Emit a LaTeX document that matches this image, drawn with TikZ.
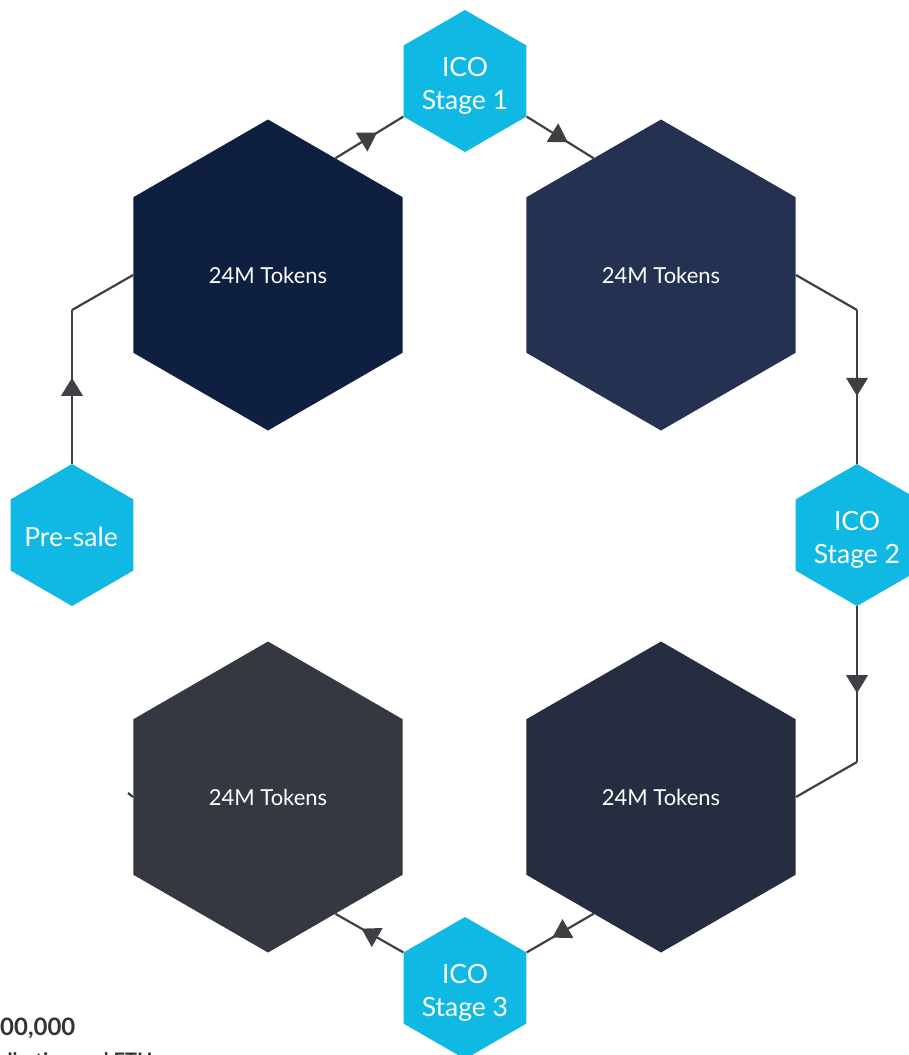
\documentclass[tikz,border=0pt]{standalone}
\usepackage{fontspec}
\setmainfont{Lato}
\usetikzlibrary{shapes.geometric,decorations.markings}
\definecolor{cyanhex}{HTML}{10B9E3}
\definecolor{hexA}{HTML}{0E1F40}
\definecolor{hexB}{HTML}{243150}
\definecolor{hexC}{HTML}{272D40}
\definecolor{hexD}{HTML}{353840}
\definecolor{linecol}{HTML}{404044}
\definecolor{txtgray}{HTML}{333333}
\begin{document}
\begin{tikzpicture}[x=1pt,y=-1pt,
  bighex/.style={regular polygon, regular polygon sides=6, shape border rotate=30,
    minimum size=311pt, inner sep=0pt, text=white, font=\fontsize{22}{26}\selectfont},
  smallhex/.style={regular polygon, regular polygon sides=6, shape border rotate=30,
    minimum size=142pt, inner sep=0pt, fill=cyanhex},
  hextext/.style={inner sep=0pt, text=white, align=center,
    font=\fontsize{26.5}{33}\selectfont},
  link/.style={draw=linecol, line width=2.2pt},
  midarrow/.style={postaction={decorate}, decoration={markings,
    mark=at position 0.5 with {\fill[linecol] (9pt,0pt) -- (-9pt,11pt) -- (-9pt,-11pt) -- cycle;}}}
]
\useasboundingbox (0,0) rectangle (909,1055);
\clip (0,0) rectangle (909,1055);

\node[bighex, fill=hexA] (tl) at (268,275) {24M Tokens};
\node[bighex, fill=hexB] (tr) at (661,275) {24M Tokens};
\node[bighex, fill=hexD] (bl) at (268,797) {24M Tokens};
\node[bighex, fill=hexC] (br) at (661,797) {24M Tokens};

\node[smallhex] (ico1) at (465,81) {};
\node[smallhex] (ico2) at (857,535) {};
\node[smallhex] (ico3) at (465,988) {};
\node[smallhex] (pre) at (72,535) {};
\node[hextext] (ico1t) at (465,86) {ICO\\Stage 1};
\node[hextext] (ico2t) at (857,540) {ICO\\Stage 2};
\node[hextext] (ico3t) at (465,993) {ICO\\Stage 3};
\node[hextext] (pret) at (71,537) {Pre-sale};

\coordinate (b1) at (857,310);
\coordinate (b2) at (857,762);
\coordinate (b3) at (72,310);
\coordinate (stub) at (128,793);

\draw[link, midarrow] (tl.60) -- (ico1.210);
\draw[link, midarrow] (ico1.330) -- (tr.120);
\draw[link] (tr.0) -- (b1);
\draw[link, midarrow] (b1) -- (ico2.90);
\draw[link, midarrow] (ico2.270) -- (b2);
\draw[link] (b2) -- (br.0);
\draw[link, midarrow] (br.240) -- (ico3.30);
\draw[link, midarrow] (ico3.150) -- (bl.300);
\draw[link, midarrow] (pre.90) -- (b3);
\draw[link] (b3) -- (tl.180);
\draw[link] (bl.180) -- (stub);

\node[anchor=base west, inner sep=0pt, text=txtgray, font=\fontsize{24}{28}\selectfont\bfseries] (amt) at (0,1035) {00,000};
\node[anchor=base west, inner sep=0pt, text=txtgray, font=\fontsize{20}{24}\selectfont\bfseries] (note) at (0,1067) {ribution and ETH};
\end{tikzpicture}
\end{document}
